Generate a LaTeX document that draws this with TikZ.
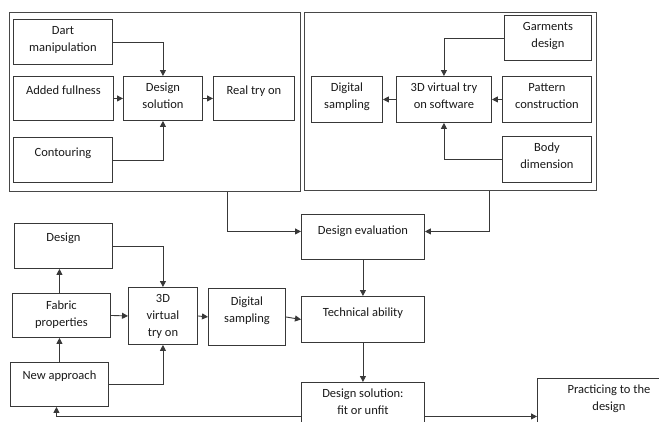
\documentclass[tikz,border=0pt]{standalone}
\usepackage{fontspec}
\setmainfont{Carlito}
\usetikzlibrary{arrows.meta,calc}
\newcommand\bt[4]{\parbox[c][#2pt][t]{#1pt}{\centering\vspace*{#3pt}\strut #4\par}}
\tikzset{
  bx/.style={draw=black!78, line width=0.9pt, inner sep=0pt, anchor=north west,
    font=\fontsize{12.5}{17}\selectfont, text=black!90},
  frm/.style={draw=black!72, line width=1pt, inner sep=0pt, anchor=north west},
  arr/.style={draw=black!78, line width=0.9pt, -{Triangle[length=6pt,width=6pt]}},
}
\begin{document}
\begin{tikzpicture}[x=1pt,y=-1pt]
\useasboundingbox (0,0) rectangle (659,421);
\clip (0,0) rectangle (659,421);
% frames
\node[frm, minimum width=291pt, minimum height=179pt] (lframe) at (9,12) {};
\node[frm, minimum width=292pt, minimum height=178pt] (rframe) at (304,12) {};
% left frame
\node[bx] (dart) at (13,19) {\bt{99}{45}{3}{Dart\\manipulation}};
\node[bx] (added) at (13,76) {\bt{100}{44}{6.5}{Added fullness}};
\node[bx] (dsol) at (123,76) {\bt{79}{44}{3}{Design\\solution}};
\node[bx] (real) at (213,76) {\bt{81}{44}{6.5}{Real try on}};
\node[bx] (contour) at (13,137) {\bt{99}{45}{7}{Contouring}};
% right frame
\node[bx] (garm) at (504,15) {\bt{87}{45}{3}{Garments\\design}};
\node[bx] (dsamp1) at (311,76) {\bt{71}{46}{3}{Digital\\sampling}};
\node[bx] (sw3d) at (396,76) {\bt{95}{46}{3}{3D virtual try\\on software}};
\node[bx] (pattern) at (502,76) {\bt{89}{46}{3}{Pattern\\construction}};
\node[bx] (body) at (502,136) {\bt{89}{46}{3}{Body\\dimension}};
% lower part
\node[bx] (deval) at (301,214) {\bt{123}{45}{8}{Design evaluation}};
\node[bx] (design) at (14,223) {\bt{98}{45}{6.5}{Design}};
\node[bx] (fabric) at (12,293) {\bt{98}{44}{4}{Fabric\\properties}};
\node[bx] (v3d) at (128,287) {\bt{69}{57}{3}{3D\\virtual\\try on}};
\node[bx] (dsamp2) at (208,288) {\bt{77}{57}{5}{Digital\\sampling}};
\node[bx] (tech) at (301,296) {\bt{123}{46}{8}{Technical ability}};
\node[bx] (newap) at (10,362) {\bt{98}{44}{5}{New approach}};
\node[bx] (dsolfit) at (301,382) {\bt{123}{68}{3}{Design solution:\\fit or unfit}};
\node[bx] (pract) at (537,378) {\bt{143}{76}{3}{Practicing to the\\design}};
% connectors left frame
\draw[arr] (dart.east) -| (dsol.north);
\draw[arr] (added.east) -- (dsol.west);
\draw[arr] (dsol.east) -- (real.west);
\draw[arr] (contour.east) -| (dsol.south);
% connectors right frame
\draw[arr] (garm.west) -| (sw3d.north);
\draw[arr] (pattern.west) -- (sw3d.east);
\draw[arr] (sw3d.west) -- (dsamp1.east);
\draw[arr] (body.west) -| (sw3d.south);
% frames to evaluation
\draw[arr] (lframe.south west) ++(218,0) |- ([yshift=5.5pt]deval.west);
\draw[arr] (rframe.south west) ++(185,0) |- ([yshift=5.5pt]deval.east);
% main chain
\draw[arr] (deval.south) -- (tech.north);
\draw[arr] (tech.south) -- (dsolfit.north);
\draw[arr] (dsolfit.east) -- (pract.west);
% lower left
\draw[arr] (design.east) -| (v3d.north);
\draw[arr] (newap.north) -- (fabric.south -| newap.north);
\draw[arr] (fabric.north -| newap.north) -- (design.south -| newap.north);
\draw[arr] (fabric.east) -- (v3d.west);
\draw[arr] (v3d.east) -- (dsamp2.west);
\draw[arr] (dsamp2.east) -- (tech.west);
\draw[arr] (newap.east) -| (v3d.south);
\draw[arr] (dsolfit.west) -| ([xshift=-3pt]newap.south);
\end{tikzpicture}
\end{document}
